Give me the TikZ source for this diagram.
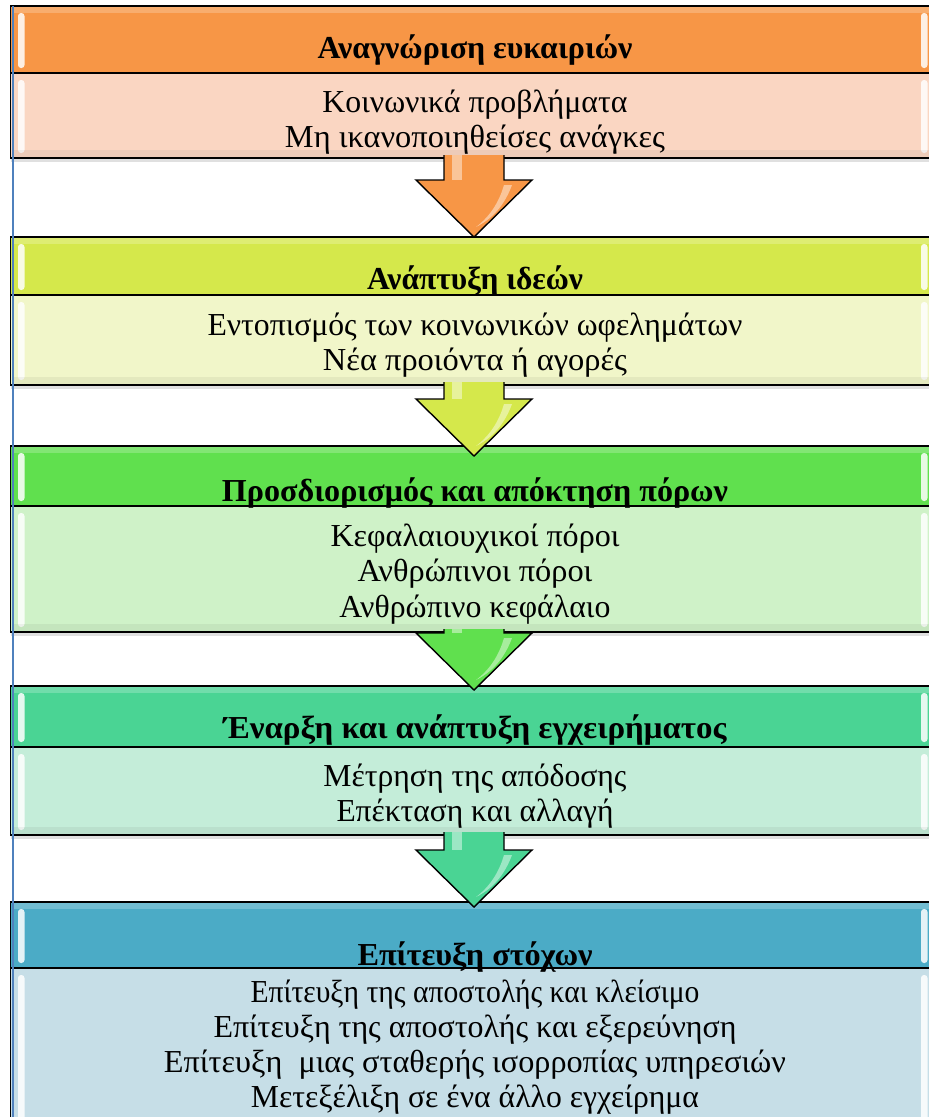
\documentclass[tikz,border=0pt]{standalone}
\usepackage{fontspec}
\setmainfont{Liberation Serif}
\usetikzlibrary{calc}
\definecolor{hA}{HTML}{F79646}
\definecolor{bA}{HTML}{FAD6C2}
\definecolor{hB}{HTML}{D5E84B}
\definecolor{bB}{HTML}{F1F6C9}
\definecolor{hC}{HTML}{60E04E}
\definecolor{bC}{HTML}{CFF2C8}
\definecolor{hD}{HTML}{4AD494}
\definecolor{bD}{HTML}{C4EDD9}
\definecolor{hE}{HTML}{4BABC6}
\definecolor{bE}{HTML}{C6DEE7}
\definecolor{edgeblue}{HTML}{4F81BD}
\newcommand\tw[2]{\resizebox{#1pt}{\height}{#2}}
\tikzset{
  box/.style={draw=black, line width=1.4pt, inner sep=0pt, outer sep=0pt,
    anchor=north west, minimum width=924.5pt},
  txt/.style={anchor=base, inner sep=0pt, font=\fontsize{32}{35}\selectfont},
  htxt/.style={anchor=base, inner sep=0pt, font=\fontsize{32}{35}\selectfont\bfseries},
  gloss/.style={fill=white, opacity=0.85, rounded corners=3pt},
  arrowline/.style={draw=black, line width=1.4pt, line join=miter},
  shine/.style={fill=white, opacity=0.45},
}
\newcommand\panel[4]{% name, fill, top, height
  \node[box, fill=#2, minimum height=#4pt] (#1) at (10.5,#3) {};
  \fill[gloss] ($(#1.north west)+(7.5pt,-7pt)$) rectangle ($(#1.south west)+(14pt,5pt)$);
  \fill[gloss] ($(#1.north east)+(-14pt,-7pt)$) rectangle ($(#1.south east)+(-7.5pt,5pt)$);
}
\newcommand\topband[1]{%
  \fill[white, opacity=0.22] ($(#1.north west)+(1pt,-1pt)$) rectangle ($(#1.north east)+(-1pt,-7pt)$);
}
\newcommand\bottomline[1]{%
  \fill[black, opacity=0.05] ($(#1.south west)+(1pt,1pt)$) rectangle ($(#1.south east)+(-1pt,8pt)$);
  \draw[black!12, line width=2.5pt] ($(#1.south west)+(0,-2.5pt)$) -- ($(#1.south east)+(0,-2.5pt)$);
  \draw[black, line width=2.6pt] (#1.south west) -- (#1.south east);
}
\newcommand\flowarrow[4]{% colour, from node, to node, overlap into target
  \path[arrowline, fill=#1] let \p1=(#2.south), \p2=(#3.north) in
    (444pt,\y1+3pt) -- (444pt,\y2-#4pt+57pt) -- (416pt,\y2-#4pt+57pt)
    -- (474pt,\y2-#4pt) -- (532pt,\y2-#4pt+57pt) -- (504pt,\y2-#4pt+57pt) -- (504pt,\y1+3pt);
  \fill[shine] let \p1=(#2.south), \p2=(#3.north) in
    (452pt,\y1+3pt) rectangle (462pt,\y2-#4pt+57pt);
  \fill[shine] let \p1=(#2.south), \p2=(#3.north) in
    (476pt,\y2-#4pt+10pt) .. controls (492pt,\y2-#4pt+22pt) and (500pt,\y2-#4pt+38pt) .. (504pt,\y2-#4pt+52pt)
    -- (512pt,\y2-#4pt+52pt) .. controls (506pt,\y2-#4pt+36pt) and (496pt,\y2-#4pt+20pt) .. cycle;
}
\begin{document}
\begin{tikzpicture}[x=1pt, y=-1pt]
\useasboundingbox (0,0) rectangle (929,1117);
\clip (0,0) rectangle (929,1117);
\fill[white] (0,0) rectangle (929,1117);
% section 1
\panel{h1}{hA}{6}{67}
\panel{b1}{bA}{73}{85}
\topband{h1}
\bottomline{b1}
% section 2
\panel{h2}{hB}{237}{58}
\panel{b2}{bB}{295}{90}
\topband{h2}
\bottomline{b2}
% section 3
\panel{h3}{hC}{446}{60}
\panel{b3}{bC}{506}{126}
\topband{h3}
\bottomline{b3}
% section 4
\panel{h4}{hD}{686}{61}
\panel{b4}{bD}{747}{88}
\topband{h4}
\bottomline{b4}
% section 5
\panel{h5}{hE}{902}{66}
\panel{b5}{bE}{968}{160}
\topband{h5}
% left blue edge
\draw[edgeblue, line width=1.6pt] (12.8,6) -- (12.8,1117);
% arrows
\flowarrow{hA}{b1}{h2}{0}
\flowarrow{hB}{b2}{h3}{10}
\flowarrow{hC}{b3}{h4}{4}
\flowarrow{hD}{b4}{h5}{5}
% texts
\node[htxt] (t1) at (475,58) {\tw{315}{Αναγνώριση ευκαιριών}};
\node[txt] (t1a) at (475,112) {\tw{305}{Κοινωνικά προβλήματα}};
\node[txt] (t1b) at (475,147) {\tw{380}{Μη ικανοποιηθείσες ανάγκες}};
\node[htxt] (t2) at (475,289) {\tw{216}{Ανάπτυξη ιδεών}};
\node[txt] (t2a) at (475,335) {\tw{535}{Εντοπισμός των κοινωνικών ωφελημάτων}};
\node[txt] (t2b) at (475,370) {\tw{304}{Νέα προιόντα ή αγορές}};
\node[htxt] (t3) at (475,501) {\tw{506}{Προσδιορισμός και απόκτηση πόρων}};
\node[txt] (t3a) at (475,546) {\tw{289}{Κεφαλαιουχικοί πόροι}};
\node[txt] (t3b) at (475,581) {\tw{235}{Ανθρώπινοι πόροι}};
\node[txt] (t3c) at (475,617) {\tw{271}{Ανθρώπινο κεφάλαιο}};
\node[htxt] (t4) at (475,738) {\tw{503}{Έναρξη και ανάπτυξη εγχειρήματος}};
\node[txt] (t4a) at (475,786) {\tw{303}{Μέτρηση της απόδοσης}};
\node[txt] (t4b) at (475,821) {\tw{277}{Επέκταση και αλλαγή}};
\node[htxt] (t5) at (475,965) {\tw{235}{Επίτευξη στόχων}};
\node[txt] (t5a) at (475,1002) {\tw{449}{Επίτευξη της αποστολής και κλείσιμο}};
\node[txt] (t5b) at (475,1037) {\tw{523}{Επίτευξη της αποστολής και εξερεύνηση}};
\node[txt] (t5c) at (475,1072) {\tw{622}{Επίτευξη\ \ μιας σταθερής ισορροπίας υπηρεσιών}};
\node[txt] (t5d) at (475,1107) {\tw{448}{Μετεξέλιξη σε ένα άλλο εγχείρημα}};
\end{tikzpicture}
\end{document}
